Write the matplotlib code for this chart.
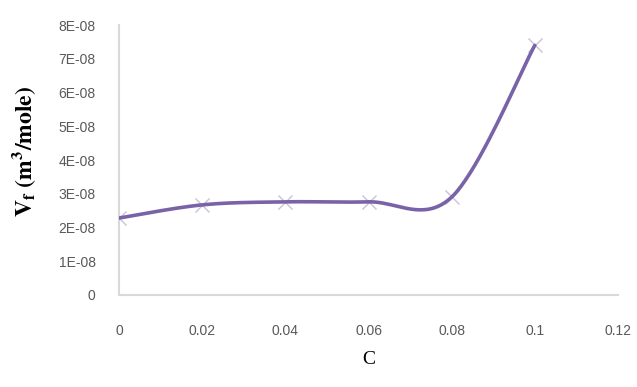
import numpy as np
import matplotlib
matplotlib.use("Agg")
import matplotlib.pyplot as plt

# Concentration C and free volume Vf (m^3/mole)
conc = [0.0, 0.02, 0.04, 0.06, 0.08, 0.10]
vf = [2.28e-08, 2.67e-08, 2.76e-08, 2.76e-08, 2.90e-08, 7.40e-08]

x_ticks = [0, 0.02, 0.04, 0.06, 0.08, 0.1, 0.12]
x_tick_labels = ["0", "0.02", "0.04", "0.06", "0.08", "0.1", "0.12"]
y_ticks = [0, 1e-08, 2e-08, 3e-08, 4e-08, 5e-08, 6e-08, 7e-08, 8e-08]
y_tick_labels = ["0", "1E-08", "2E-08", "3E-08", "4E-08", "5E-08", "6E-08", "7E-08", "8E-08"]


def smooth_curve(xs, ys, n=40):
    """Cardinal (Catmull-Rom style) Bezier smoothing through every point."""
    px = np.asarray(xs, float)
    py = np.asarray(ys, float)
    m = len(px)
    out_x, out_y = [], []
    t = np.linspace(0, 1, n)
    for i in range(m - 1):
        i0 = max(i - 1, 0)
        i3 = min(i + 2, m - 1)
        p0 = np.array([px[i], py[i]])
        p3 = np.array([px[i + 1], py[i + 1]])
        c1 = p0 + (np.array([px[i + 1], py[i + 1]]) - np.array([px[i0], py[i0]])) / 6.0
        c2 = p3 - (np.array([px[i3], py[i3]]) - np.array([px[i], py[i]])) / 6.0
        b = ((1 - t) ** 3)[:, None] * p0 + (3 * (1 - t) ** 2 * t)[:, None] * c1 \
            + (3 * (1 - t) * t ** 2)[:, None] * c2 + (t ** 3)[:, None] * p3
        out_x.extend(b[:, 0])
        out_y.extend(b[:, 1])
    return np.array(out_x), np.array(out_y)


plt.rcParams["mathtext.fontset"] = "stix"

fig = plt.figure(figsize=(6.37, 3.87), dpi=100)
ax = fig.add_axes([0.187, 0.238, 0.783, 0.697])

sx, sy = smooth_curve(conc, vf)
ax.plot(sx, sy, color="#7A62A8", lw=2.6, solid_capstyle="round", zorder=3)
ax.plot(conc, vf, linestyle="none", marker="x", ms=10, mew=1.0,
        color="#C9C3D6", zorder=2)

ax.set_xlim(0, 0.12)
ax.set_ylim(0, 8e-08)
ax.set_xticks(x_ticks)
ax.set_xticklabels(x_tick_labels)
ax.set_yticks(y_ticks)
ax.set_yticklabels(y_tick_labels)

for s in ("top", "right"):
    ax.spines[s].set_visible(False)
for s in ("left", "bottom"):
    ax.spines[s].set_color("#D9D9D9")
    ax.spines[s].set_linewidth(1.5)

ax.tick_params(axis="both", length=0, labelsize=10, labelcolor="#595959")
ax.tick_params(axis="x", pad=21)
ax.tick_params(axis="y", pad=17)
for lab in ax.get_xticklabels() + ax.get_yticklabels():
    lab.set_family("Liberation Sans")

ax.set_ylabel(r"$\mathbf{V_f\ (m^3/mole)}$", fontsize=17)
ax.yaxis.set_label_coords(-0.162, 0.53)
ax.set_xlabel("C", fontsize=14, family="Liberation Serif", labelpad=9)

fig.savefig("out.png", dpi=100, facecolor="white")
